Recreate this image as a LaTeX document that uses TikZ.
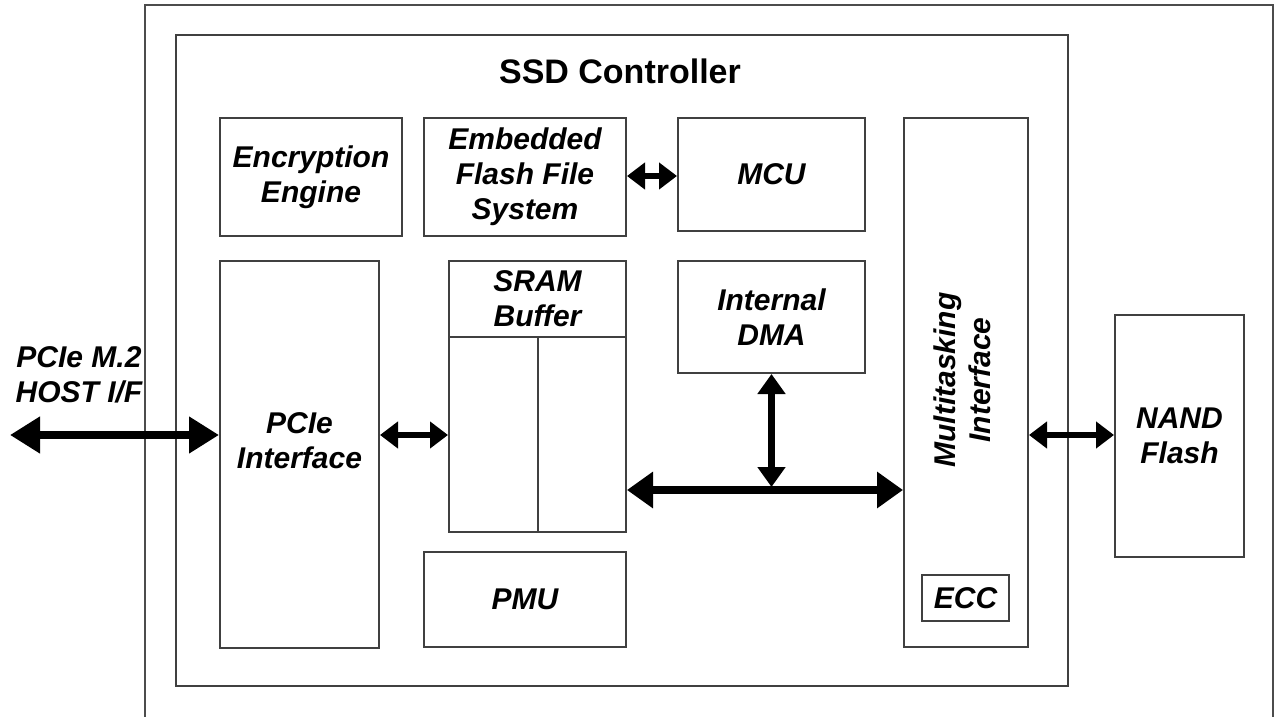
\documentclass[tikz,border=0pt]{standalone}
\usepackage{fontspec}
\setmainfont{Liberation Sans}
\usetikzlibrary{arrows.meta}
\tikzset{
  box/.style={draw=black!75, line width=1pt, inner sep=0pt, fill=white},
  lbl/.style={font=\bfseries\itshape\fontsize{15}{17.5}\selectfont, align=center, inner sep=0pt},
  bigarrow/.style={line width=4pt, {Triangle[length=15pt,width=17.5pt]}-{Triangle[length=15pt,width=17.5pt]}},
  busarrow/.style={line width=4pt, {Triangle[length=13pt,width=17.5pt]}-{Triangle[length=13pt,width=17.5pt]}},
  midarrow/.style={line width=3.5pt, {Triangle[length=10pt,width=13.5pt]}-{Triangle[length=10pt,width=13.5pt]}},
  smallarrow/.style={line width=3pt, {Triangle[length=9pt,width=13pt]}-{Triangle[length=9pt,width=13pt]}},
}
\begin{document}
\begin{tikzpicture}[x=0.5pt,y=-0.5pt]
\useasboundingbox (0,0) rectangle (1276,717);
% outer enclosure (cut off at bottom)
\draw[draw=black!70, line width=1pt] (145,717) -- (145,5) -- (1273,5) -- (1273,717);
% SSD controller
\node[box, minimum width=446pt, minimum height=325.5pt] (ctrl) at (622,360.5) {};
\node[font=\bfseries\fontsize{17}{20}\selectfont, inner sep=0pt] (title) at (620,71) {SSD Controller};
% blocks
\node[box, lbl, minimum width=91pt, minimum height=59pt] (enc) at (311,177) {Encryption\\Engine};
\node[box, lbl, minimum width=101pt, minimum height=59pt] (effs) at (525,177) {Embedded\\Flash File\\System};
\node[box, lbl, minimum width=93.5pt, minimum height=56.5pt] (mcu) at (771.5,174.5) {MCU};
\node[box, minimum width=79.5pt, minimum height=193.5pt] (pcie) at (299.5,454.5) {};
\node[lbl] (pcielbl) at (299.5,441) {PCIe\\Interface};
\node[box, minimum width=88.5pt, minimum height=135.5pt] (sram) at (537.5,396.5) {};
\draw[draw=black!75, line width=1pt] (sram.west |- 0,337) coordinate (sl) -- (sram.east |- 0,337) coordinate (sr);
\draw[draw=black!75, line width=1pt] (537.5,337) coordinate (sdt) -- (sram.south) coordinate (sdb);
\node[lbl] (sramlbl) at (537.5,299) {SRAM\\Buffer};
\node[box, lbl, minimum width=93.5pt, minimum height=56pt] (dma) at (771.5,317) {Internal\\DMA};
\node[box, lbl, minimum width=101pt, minimum height=47.5pt] (pmu) at (525,599.5) {PMU};
\node[box, minimum width=62pt, minimum height=264.5pt] (mti) at (966,382.5) {};
\node[lbl, rotate=90] (mtilbl) at (962,380) {Multitasking\\Interface};
\node[box, lbl, minimum width=43.5pt, minimum height=23pt] (ecc) at (965.5,598) {ECC};
\node[box, lbl, minimum width=64.5pt, minimum height=121pt] (nand) at (1179.5,436) {NAND\\Flash};
% host label
\node[lbl] (host) at (79,375) {PCIe M.2\\HOST I/F};
% connectors
\coordinate (hostend) at (10,435);
\draw[bigarrow] (hostend) -- (pcie.west |- hostend);
\draw[smallarrow] (pcie.east |- hostend) -- (sram.west |- hostend);
\draw[smallarrow] (effs.east |- 0,176) -- (mcu.west |- 0,176);
\coordinate (bus) at (771.5,490);
\draw[busarrow] (sram.east |- bus) -- (mti.west |- bus);
\draw[midarrow] (dma.south) -- (0,487 -| dma.south);
\draw[smallarrow] (mti.east |- hostend) -- (nand.west |- hostend);
\end{tikzpicture}
\end{document}
